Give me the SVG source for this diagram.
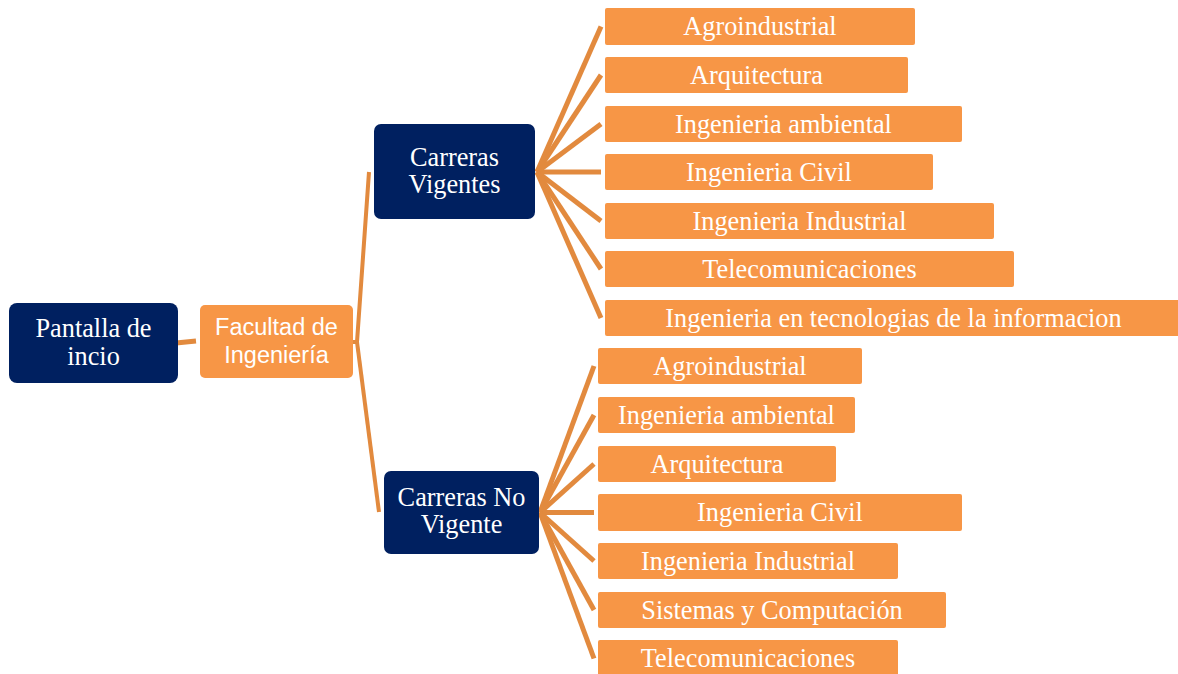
<svg xmlns="http://www.w3.org/2000/svg" width="1178" height="674" viewBox="0 0 1178 674">
<style>
.dark{fill:#002060}
.leaf{fill:#F79646}
.ser{font-family:"Liberation Serif","Times New Roman",serif;font-size:26.3px;fill:#fff;text-anchor:middle}
.sans{font-family:"Liberation Sans",Arial,sans-serif;font-size:23.5px;fill:#fff;text-anchor:middle}
.con{stroke:#E28A3E;fill:none;stroke-linecap:butt}
</style>
<rect width="1178" height="674" fill="#fff"/>
<g id="connectors">
<line class="con" stroke-width="5" x1="176" y1="343" x2="196" y2="341"/>
<polyline class="con" stroke-width="4" points="353,342 357,342 369,172"/>
<polyline class="con" stroke-width="4" points="357,342 379,512"/>
<g stroke-width="5">
<line class="con" x1="537" y1="172" x2="601" y2="26.5"/>
<line class="con" x1="537" y1="172" x2="601" y2="75"/>
<line class="con" x1="537" y1="172" x2="601" y2="124"/>
<line class="con" x1="537" y1="172" x2="601" y2="172"/>
<line class="con" x1="537" y1="172" x2="601" y2="221"/>
<line class="con" x1="537" y1="172" x2="601" y2="269"/>
<line class="con" x1="537" y1="172" x2="601" y2="318"/>
<line class="con" x1="540" y1="512.5" x2="594" y2="366"/>
<line class="con" x1="540" y1="512.5" x2="594" y2="415"/>
<line class="con" x1="540" y1="512.5" x2="594" y2="464"/>
<line class="con" x1="540" y1="512.5" x2="594" y2="512.5"/>
<line class="con" x1="540" y1="512.5" x2="594" y2="561"/>
<line class="con" x1="540" y1="512.5" x2="594" y2="610"/>
<line class="con" x1="540" y1="512.5" x2="594" y2="658.5"/>
</g>
</g>
<g id="pantalla">
<rect class="dark" x="9" y="303" width="169" height="80" rx="8"/>
<text class="ser" x="93.5" y="337">Pantalla de</text>
<text class="ser" x="93.5" y="365">incio</text>
</g>
<g id="facultad">
<rect class="leaf" x="200" y="305" width="153" height="73" rx="5"/>
<text class="sans" x="276.5" y="335">Facultad de</text>
<text class="sans" x="276.5" y="363">Ingeniería</text>
</g>
<g id="vigentes">
<rect class="dark" x="374" y="124" width="161" height="95" rx="7"/>
<text class="ser" x="454.5" y="166">Carreras</text>
<text class="ser" x="454.5" y="193">Vigentes</text>
</g>
<g id="novigente">
<rect class="dark" x="384" y="471" width="155" height="83" rx="7"/>
<text class="ser" x="461.5" y="506">Carreras No</text>
<text class="ser" x="461.5" y="533">Vigente</text>
</g>
<g id="v1"><rect class="leaf" x="605" y="8" width="310" height="37" rx="2"/><text class="ser" x="760" y="35">Agroindustrial</text></g>
<g id="v2"><rect class="leaf" x="605" y="57" width="303" height="36" rx="2"/><text class="ser" x="756.5" y="84">Arquitectura</text></g>
<g id="v3"><rect class="leaf" x="605" y="106" width="357" height="36" rx="2"/><text class="ser" x="783.5" y="133">Ingenieria ambiental</text></g>
<g id="v4"><rect class="leaf" x="605" y="154" width="328" height="36" rx="2"/><text class="ser" x="769" y="181">Ingenieria Civil</text></g>
<g id="v5"><rect class="leaf" x="605" y="203" width="389" height="36" rx="2"/><text class="ser" x="799.5" y="230">Ingenieria Industrial</text></g>
<g id="v6"><rect class="leaf" x="605" y="251" width="409" height="36" rx="2"/><text class="ser" x="809.5" y="278">Telecomunicaciones</text></g>
<g id="v7"><rect class="leaf" x="605" y="300" width="578" height="36" rx="2"/><text class="ser" x="893.5" y="327">Ingenieria en tecnologias de la informacion</text></g>
<g id="n1"><rect class="leaf" x="598" y="348" width="264" height="36" rx="2"/><text class="ser" x="730" y="375">Agroindustrial</text></g>
<g id="n2"><rect class="leaf" x="598" y="397" width="257" height="36" rx="2"/><text class="ser" x="726.5" y="424">Ingenieria ambiental</text></g>
<g id="n3"><rect class="leaf" x="598" y="446" width="238" height="36" rx="2"/><text class="ser" x="717" y="473">Arquitectura</text></g>
<g id="n4"><rect class="leaf" x="598" y="494" width="364" height="37" rx="2"/><text class="ser" x="780" y="521">Ingenieria Civil</text></g>
<g id="n5"><rect class="leaf" x="598" y="543" width="300" height="36" rx="2"/><text class="ser" x="748" y="570">Ingenieria Industrial</text></g>
<g id="n6"><rect class="leaf" x="598" y="592" width="348" height="36" rx="2"/><text class="ser" x="772" y="619">Sistemas y Computación</text></g>
<g id="n7"><rect class="leaf" x="598" y="640" width="300" height="37" rx="2"/><text class="ser" x="748" y="667">Telecomunicaciones</text></g>
</svg>
